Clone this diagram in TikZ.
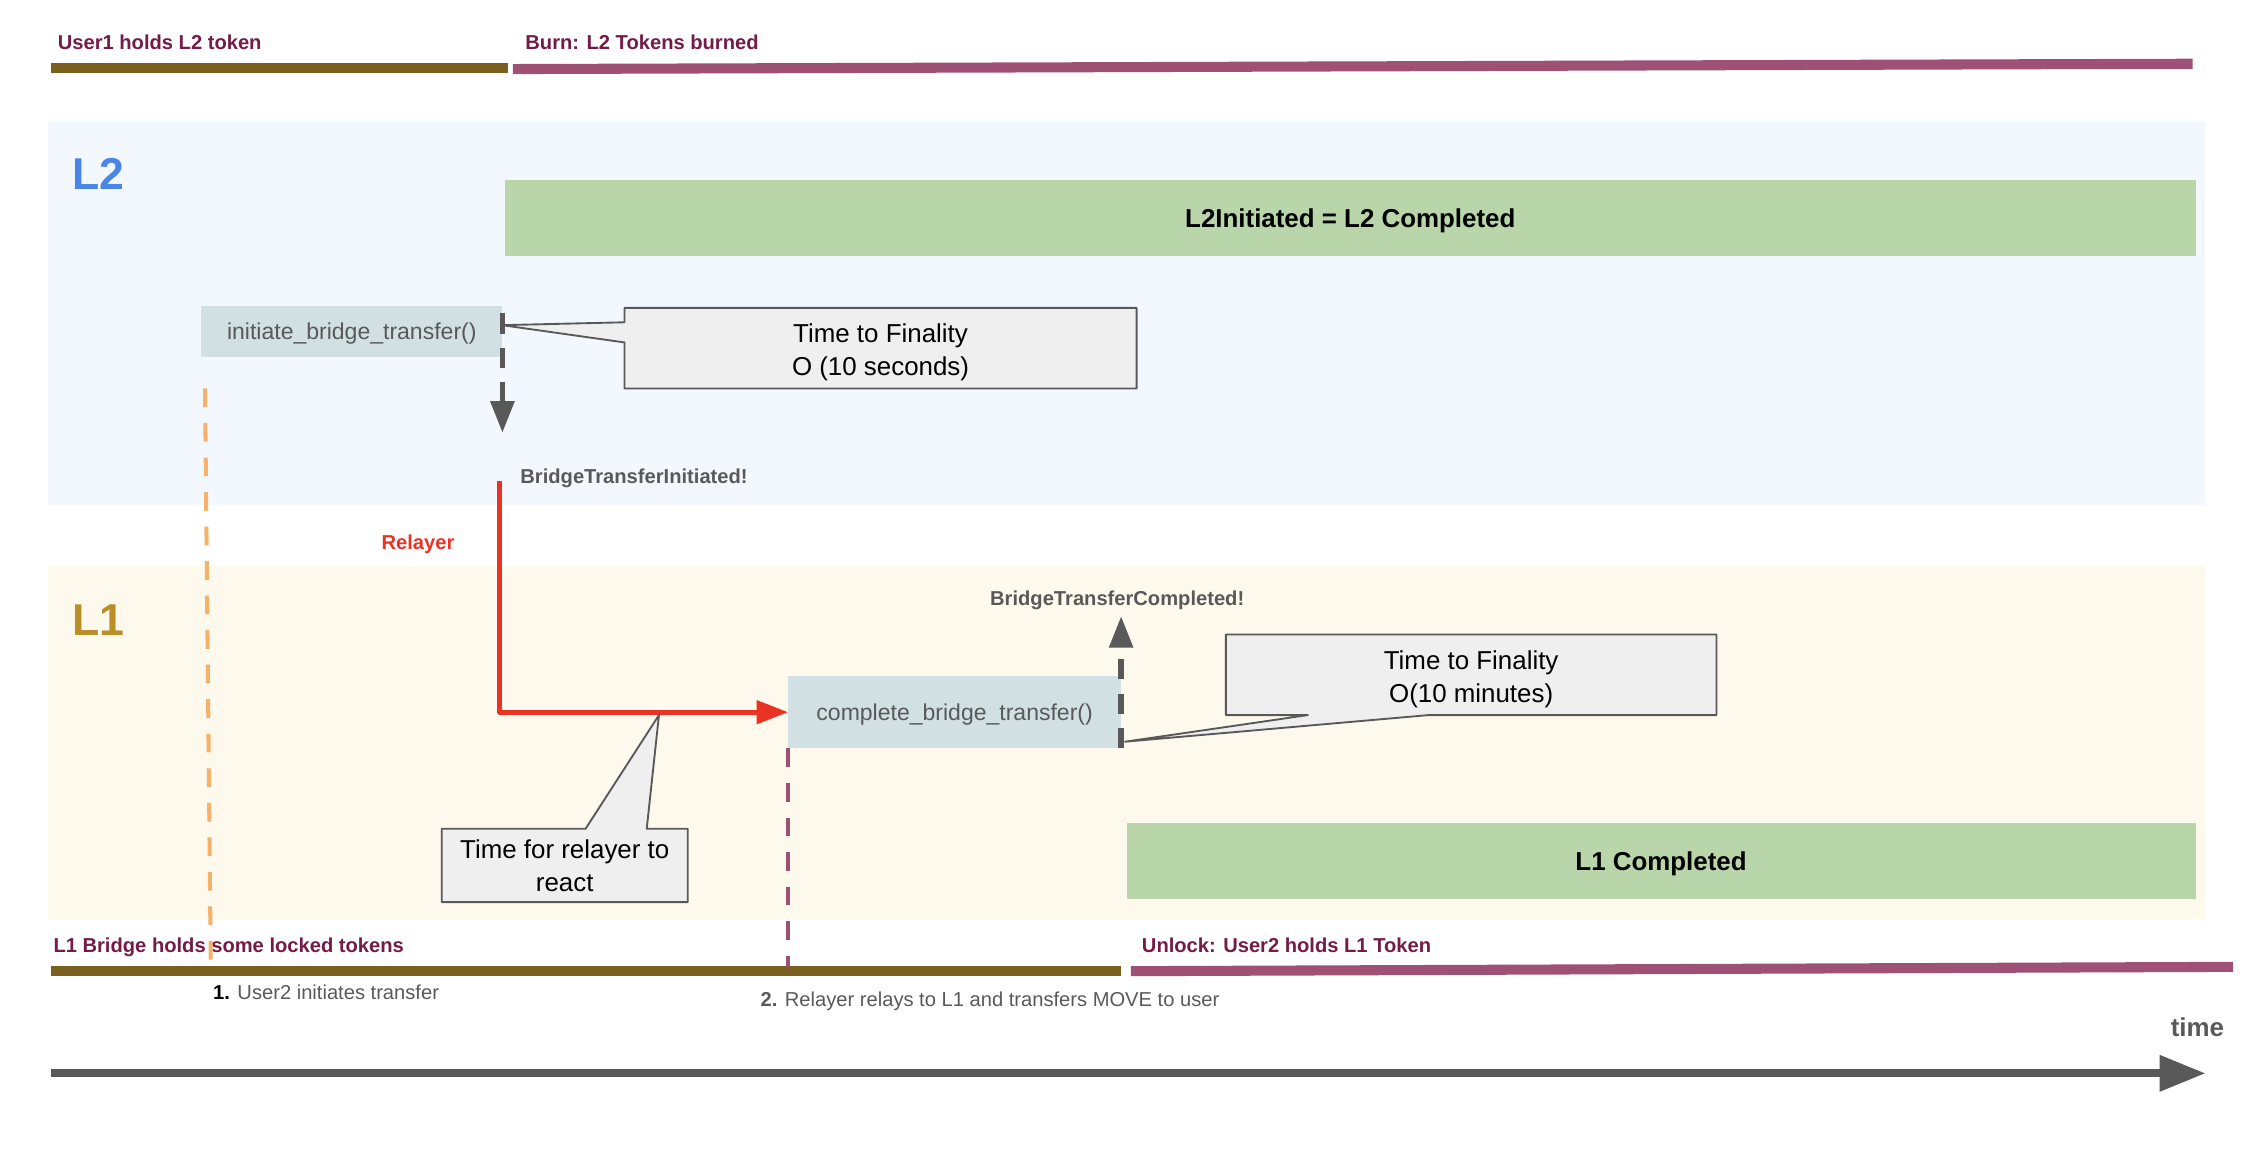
\documentclass[tikz,border=0pt]{standalone}
\usepackage{fontspec}
\setmainfont{Liberation Sans}
\usepackage{tikz}
\usetikzlibrary{arrows.meta}
\usepackage{xcolor}
\definecolor{bridgeblue}{RGB}{74,134,232}
\definecolor{bridgegold}{RGB}{186,143,40}
\definecolor{bridgeolive}{RGB}{122,95,30}
\definecolor{bridgeplum}{RGB}{158,81,117}
\definecolor{bridgewine}{RGB}{116,27,71}
\definecolor{bridgegray}{RGB}{89,89,89}
\definecolor{bridgered}{RGB}{234,51,35}
\definecolor{bridgeorange}{RGB}{246,178,107}
\definecolor{bridgegreen}{RGB}{185,214,170}
\definecolor{bridgecall}{RGB}{208,224,227}
\definecolor{bridgenote}{RGB}{239,239,239}
\definecolor{bridgelanetwo}{RGB}{243,247,254}
\definecolor{bridgelaneone}{RGB}{254,249,237}

\begin{document}
\begin{tikzpicture}[x=1pt,y=-1pt,
    tagtext/.style={inner sep=0pt,font=\fontsize{14}{16}\selectfont\bfseries},
    donebox/.style={fill=bridgegreen,inner sep=0pt,text height=12.9pt,text depth=0pt,font=\fontsize{18}{22}\selectfont\bfseries},
    fnbox/.style={fill=bridgecall,inner sep=0pt,text height=11.5pt,text depth=0pt,text=bridgegray,font=\fontsize{16}{19}\selectfont},
    notebox/.style={draw=bridgegray,line width=1.3pt,fill=bridgenote,line join=round},
    notetext/.style={inner sep=0pt,align=center,font=\fontsize{18}{23}\selectfont},
    emitarrow/.style={bridgegray,line width=4pt,dash pattern=on 14pt off 10pt,-{Triangle[length=22pt,width=16pt]}},
    tickline/.style={line width=2.8pt,dash pattern=on 13pt off 11pt},
    holdbar/.style={line width=7pt}]
    \useasboundingbox (0,0) rectangle (1568,802);
    % lanes
    \fill[bridgelanetwo] (33.7,84) rectangle (1532.5,351);
    \fill[bridgelaneone] (33.7,393.5) rectangle (1532.5,638.7);
    \node[anchor=base west,inner sep=0pt,text=bridgeblue,font=\fontsize{31}{36}\selectfont\bfseries] (ltwo) at (50,131.6) {L2};
    \node[anchor=base west,inner sep=0pt,text=bridgegold,font=\fontsize{31}{36}\selectfont\bfseries] (lone) at (50,442) {L1};
    % token holdings
    \draw[holdbar,bridgeolive] (35.5,47.3) -- (352.8,47.3);
    \draw[holdbar,bridgeplum] (356.4,48) -- (1524,44.3);
    \draw[holdbar,bridgeolive] (35.7,675) -- (779,675);
    \draw[holdbar,bridgeplum] (786,675) -- (1552,672);
    \node[tagtext,anchor=base west,text=bridgewine] (hold1) at (40,34.3) {User1 holds L2 token};
    \node[tagtext,anchor=base west,text=bridgewine] (burn) at (365,34.3) {Burn: L2 Tokens burned};
    \node[tagtext,anchor=base west,text=bridgewine] (lock) at (37,662) {L1 Bridge holds some locked tokens};
    \node[tagtext,anchor=base west,text=bridgewine] (unlock) at (793.5,662) {Unlock: User2 holds L1 Token};
    % states
    \node[donebox,minimum width=1175pt,minimum height=53pt] (donetwo) at (938.5,151.5) {L2Initiated = L2 Completed};
    \node[donebox,minimum width=743pt,minimum height=53pt] (doneone) at (1154.5,598.5) {L1 Completed};
    % calls
    \node[fnbox,minimum width=209pt,minimum height=35pt] (init) at (244.5,230.5) {initiate\_bridge\_transfer()};
    \node[fnbox,minimum width=231pt,minimum height=50pt] (cbt) at (663.5,495) {complete\_bridge\_transfer()};
    \draw[emitarrow] ([yshift=-5pt]init.north east) -- ++(0,83);
    \draw[emitarrow] (cbt.south east) -- ++(0,-92);
    \node[tagtext,anchor=base west,text=bridgegray] (initd) at (361.5,336) {BridgeTransferInitiated!};
    \node[tagtext,anchor=base west,text=bridgegray] (compd) at (688,420.5) {BridgeTransferCompleted!};
    % relayer
    \coordinate (evt) at (347.5,334);
    \draw[bridgered,line width=3.5pt,line join=round,-{Triangle[length=22pt,width=16pt]}] (evt) |- (cbt.west);
    \node[tagtext,anchor=base west,text=bridgered] (relayer) at (265,382) {Relayer};
    % callouts
    \filldraw[notebox] (434,214) -- (790,214) -- (790,270) -- (434,270) -- (434,238) -- (349,226) -- (434,224) -- cycle;
    \node[notetext] (fintwo) at (612,245) {Time to Finality\\O (10 seconds)};
    \filldraw[notebox] (852,441) -- (1193,441) -- (1193,497) -- (993,497) -- (782,515.5) -- (909,497) -- (852,497) -- cycle;
    \node[notetext] (finone) at (1022.5,472) {Time to Finality\\O(10 minutes)};
    \filldraw[notebox] (307,576) -- (407,576) -- (458,497) -- (449.5,576) -- (478,576) -- (478,627) -- (307,627) -- cycle;
    \node[notetext] (react) at (392.5,601.5) {Time for relayer to\\react};
    % steps
    \draw[tickline,bridgeorange] (142.5,270) -- (146.5,672);
    \draw[tickline,bridgeplum] (cbt.south west) -- ++(0,152);
    \node[anchor=base west,inner sep=0pt,font=\fontsize{14}{16}\selectfont] (step1) at (148,694.4) {\textbf{1.} \textcolor{bridgegray}{User2 initiates transfer}};
    \node[anchor=base west,inner sep=0pt,text=bridgegray,font=\fontsize{14}{16}\selectfont] (step2) at (528.5,699.7) {\textbf{2.} Relayer relays to L1 and transfers MOVE to user};
    % time axis
    \draw[bridgegray,line width=5.6pt,-{Triangle[length=32pt,width=24pt]}] (35.7,746) -- (1533,746);
    \node[anchor=base east,inner sep=0pt,text=bridgegray,font=\fontsize{18}{22}\selectfont\bfseries] (time) at (1546,720.5) {time};
\end{tikzpicture}
\end{document}
